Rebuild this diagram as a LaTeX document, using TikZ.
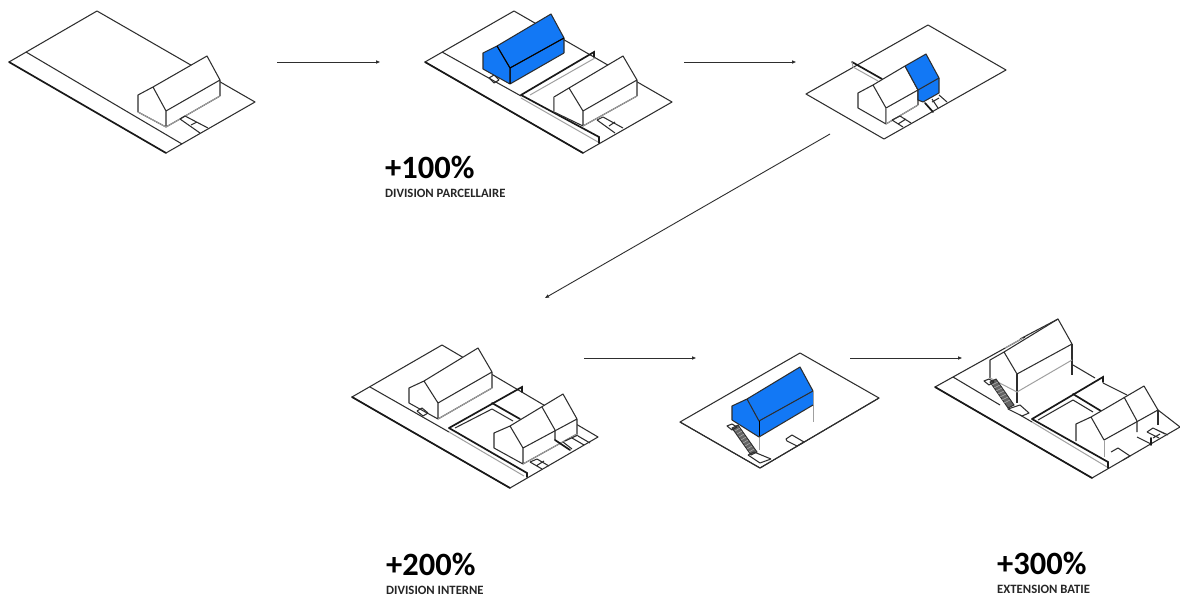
\documentclass[tikz,border=0pt]{standalone}
\usepackage{fontspec}
\setmainfont{Carlito}
\usetikzlibrary{arrows.meta}
\definecolor{ink}{HTML}{2E2E2E}
\definecolor{soft}{HTML}{A0A0A0}
\definecolor{azure}{HTML}{1278F5}
\tikzset{
  edge/.style={draw=ink,line width=1.05pt,line join=round},
  thick edge/.style={draw=black!90,line width=1.7pt,line cap=round},
  soft edge/.style={draw=soft,line width=1pt},
  flow/.style={draw=ink,line width=0.9pt,-{Triangle[length=4pt,width=3.2pt]}},
  big/.style={anchor=west,inner sep=0pt,font=\fontsize{32.5}{33}\selectfont\bfseries,text=black},
  small/.style={anchor=west,inner sep=0pt,font=\fontsize{12.7}{13}\selectfont\bfseries,text=black!85}
}
% fill; gable-left, its foot, front foot, front eave, ridge front, ridge back, back eave, back foot
\newcommand{\gabled}[9]{%
  \fill[#1] (#2)--(#3)--(#4)--(#9)--(#8)--(#7)--(#6)--cycle;
  \draw[edge] (#9)--(#4)--(#3)--(#2)--(#6)--(#7)--(#8)--(#5)--(#6) (#5)--(#4) (#8)--(#9);
}
\begin{document}
\begin{tikzpicture}[x=1pt,y=-1pt]
\useasboundingbox (0,0) rectangle (1180,599);
\fill[white] (0,0) rectangle (1180,599);

% ---------- 1
\draw[edge] (9,62)--(97,11)--(255,102)--(166,153);
\draw[thick edge] (9,62)--(166,153);
\draw[edge] (26,52)--(182,144);
\gabled{white}{138,95}{138,112}{166,127}{166,111}{153,87}{207,56}{220,80}{220,96}
\draw[soft edge] (138,112)--(166,127)--(220,96);
\draw[edge] (180,119)--(200,133) (185,116)--(208,128) (180,119)--(185,116) (191,125)--(197,122);

% ---------- 2
\draw[edge] (425,62)--(514,11)--(672,102)--(583,153)--(425,62);
\draw[thick edge] (425,62)--(583,153);
\draw[edge] (442,52)--(521,96);
\draw[edge] (489,78)--(494,75) (494,83)--(499,80) (489,78)--(494,83) (494,75)--(499,80);
\gabled{azure}{483,53}{483,69}{510,84}{510,68}{497,46}{551,14}{564,38}{564,53}
\draw[draw=black,line width=1pt] (510,68)--(497,46) (510,68)--(564,38) (510,68)--(510,84);
\draw[thick edge] (521,95)--(594,52)--(594,57);
\draw[thick edge] (521,95)--(599,137)--(599,143);
\draw[soft edge] (521,98)--(598,142);
\draw[soft edge] (530,95)--(595,58);
\gabled{white}{554,97}{554,112}{583,126}{583,111}{569,88}{623,56}{637,80}{637,96}
\draw[soft edge] (554,97)--(554,112);
\draw[soft edge] (583,126)--(637,96);
\draw[edge] (597,120)--(615,133) (603,117)--(623,128) (597,120)--(603,117) (609,126)--(615,122);

% ---------- 3
\draw[edge] (806,94)--(928,25)--(1006,70)--(884,139)--cycle;
\draw[thick edge] (852,62)--(882,79);
\draw[soft edge] (852,62)--(853,67)--(878,81);
\gabled{white}{858,93}{858,108}{886,124}{886,108}{873,85}{905,66}{918,90}{918,105}
\fill[azure] (905,66)--(926,54)--(939,78)--(939,93)--(923,102)--(918,100)--(918,90)--cycle;
\draw[edge] (905,66)--(926,54)--(939,78)--(918,90)--(905,66);
\draw[edge] (918,90)--(918,100)--(923,102)--(939,93)--(939,78);
\draw[soft edge] (886,124)--(918,105);
\draw[soft edge] (886,108)--(886,124);
\draw[edge] (892,120)--(903,127) (900,116)--(911,123) (892,120)--(900,116) (898,124)--(906,119);
\draw[thick edge] (925,103)--(933,112);
\draw[edge] (932,99)--(938,108) (939,95)--(947,102) (932,102)--(939,98);

% ---------- 4
\draw[edge] (352,397)--(442,345)--(598,437)--(510,488)--cycle;
\draw[thick edge] (352,397)--(510,488);
\draw[edge] (370,387)--(449,432);
\gabled{white}{409,388}{409,403}{438,419}{438,403}{424,381}{478,348}{492,372}{492,388}
\draw[soft edge] (438,419)--(492,388);
\draw[edge] (417,411)--(422,408) (423,416)--(428,413) (417,411)--(423,416) (422,408)--(428,413);
\draw[thick edge] (449,428)--(522,387)--(522,392);
\draw[thick edge] (449,428)--(527,473)--(527,477);
\draw[soft edge] (449,432)--(524,476);
\draw[edge] (455,428)--(492,409)--(513,421);
\draw[thick edge] (492,403)--(520,419);
\gabled{white}{494,433}{494,448}{523,464}{523,448}{510,426}{563,394}{577,419}{577,434}
\draw[edge] (542,407)--(555,430)--(555,440);
\draw[soft edge] (523,464)--(577,434);
\draw[thick edge] (555,440)--(570,450);
\draw[edge] (530,462)--(542,469) (537,459)--(549,466) (530,462)--(537,459) (536,466)--(544,461);
\draw[edge] (563,442)--(572,449) (572,438)--(584,445) (578,436)--(590,443) (565,441)--(578,435);

% ---------- 5
\draw[edge] (680,422)--(800,353)--(879,398)--(760,468)--cycle;
\fill[azure] (732,406)--(732,420)--(759,437)--(813,405)--(813,391)--(800,367)--(747,399)--cycle;
\draw[edge] (732,420)--(732,406)--(747,399)--(800,367)--(813,391)--(759,421)--(747,399);
\draw[draw=black,line width=1pt] (759,421)--(759,437);
\fill[white] (759,437)--(813,405)--(813,422)--(759,452)--cycle;
\draw[soft edge] (759,437)--(759,450);
\draw[soft edge] (813,391)--(813,422);
\draw[edge] (732,420)--(759,437)--(813,405);
\draw[edge] (680,422)--(760,468)--(879,398);
\fill[black!60] (732,428)--(738,425)--(757,452)--(751,455)--cycle;
\draw[ink,line width=0.9pt] (732,428)--(738,425)--(757,452)--(751,455)--cycle;
\draw[black!30,line width=0.5pt] (735,431)--(740,428) (737,434)--(742,431) (739,437)--(744,434) (741,440)--(746,437) (743,443)--(748,440) (745,446)--(750,443) (747,449)--(752,446) (749,452)--(754,449);
\draw[edge] (727,426)--(732,424)--(737,427)--(732,430)--cycle;
\draw[edge] (748,455)--(754,452)--(771,459) (748,455)--(760,463) (760,463)--(771,459);
\draw[edge] (786,439)--(792,435)--(804,442)--(797,446)--(787,441)--cycle;

% ---------- 6
\draw[edge] (935,387)--(1025,337);
\draw[edge] (1020,339)--(1058,319);
\draw[soft edge] (1005,348)--(1023,338);
\draw[edge] (1073,365)--(1095,378);
\draw[edge] (1103,383)--(1127,395);
\draw[edge] (1158,410)--(1180,427)--(1092,478)--(935,387);
\draw[thick edge] (935,387)--(1092,478);
\draw[edge] (953,377)--(1000,405);
\draw[edge] (1020,415)--(1032,422);
\draw[edge] (990,378)--(990,360)--(1004,352)--(1058,319)--(1072,344)--(1017,374)--(1004,352);
\draw[edge] (1072,344)--(1072,375);
\draw[edge] (1017,374)--(1017,403);
\draw[soft edge] (990,378)--(1017,392)--(1072,360);
\fill[black!60] (990,382)--(996,379)--(1014,405)--(1008,408)--cycle;
\draw[ink,line width=0.9pt] (990,382)--(996,379)--(1014,405)--(1008,408)--cycle;
\draw[black!30,line width=0.5pt] (992,385)--(998,382) (994,388)--(1000,385) (996,391)--(1002,388) (998,394)--(1004,391) (1000,397)--(1006,394) (1002,400)--(1008,397) (1004,403)--(1010,400);
\draw[edge] (984,381)--(989,379)--(994,382)--(989,385)--cycle;
\draw[edge] (1008,409)--(1020,405)--(1029,413)--(1022,416)--cycle;
\draw[thick edge] (1032,419)--(1103,377)--(1103,382);
\draw[thick edge] (1032,419)--(1108,462)--(1108,468);
\draw[soft edge] (1032,422)--(1107,467);
\draw[edge] (1038,420)--(1073,400)--(1093,412);
\draw[thick edge] (1073,394)--(1101,411);
\fill[white] (1076,424)--(1076,441)--(1104,457)--(1158,425)--(1158,410)--(1144,386)--(1091,417)--cycle;
\draw[edge] (1076,441)--(1076,424)--(1091,417)--(1144,386)--(1158,410)--(1104,440)--(1091,417);
\draw[edge] (1158,410)--(1158,425);
\draw[edge] (1124,397)--(1137,421)--(1137,432);
\draw[soft edge] (1104,440)--(1104,457);
\draw[edge] (1137,437)--(1151,444);
\draw[thick edge] (1151,438)--(1151,445);
\draw[edge] (1111,452)--(1118,448)--(1130,456)--(1123,460);
\draw[edge] (1147,432)--(1153,428)--(1165,434) (1153,438)--(1160,434) (1147,432)--(1159,438) (1155,429)--(1168,435);

% ---------- arrows
\coordinate (a1s) at (277,62); \coordinate (a1e) at (380,62);
\coordinate (a2s) at (684,62); \coordinate (a2e) at (796,62);
\coordinate (a3s) at (830,134); \coordinate (a3e) at (545,298);
\coordinate (a4s) at (584,358); \coordinate (a4e) at (696,358);
\coordinate (a5s) at (850,358); \coordinate (a5e) at (962,358);
\draw[flow] (a1s)--(a1e);
\draw[flow] (a2s)--(a2e);
\draw[flow] (a3s)--(a3e);
\draw[flow] (a4s)--(a4e);
\draw[flow] (a5s)--(a5e);

% ---------- texts
\node[big] (p100) at (385,167) {+100\%};
\node[small] (t100) at (385,193) {DIVISION PARCELLAIRE};
\node[big] (p200) at (386,564) {+200\%};
\node[small] (t200) at (386,590) {DIVISION INTERNE};
\node[big] (p300) at (997,563) {+300\%};
\node[small] (t300) at (997,589) {EXTENSION BATIE};
\end{tikzpicture}
\end{document}
